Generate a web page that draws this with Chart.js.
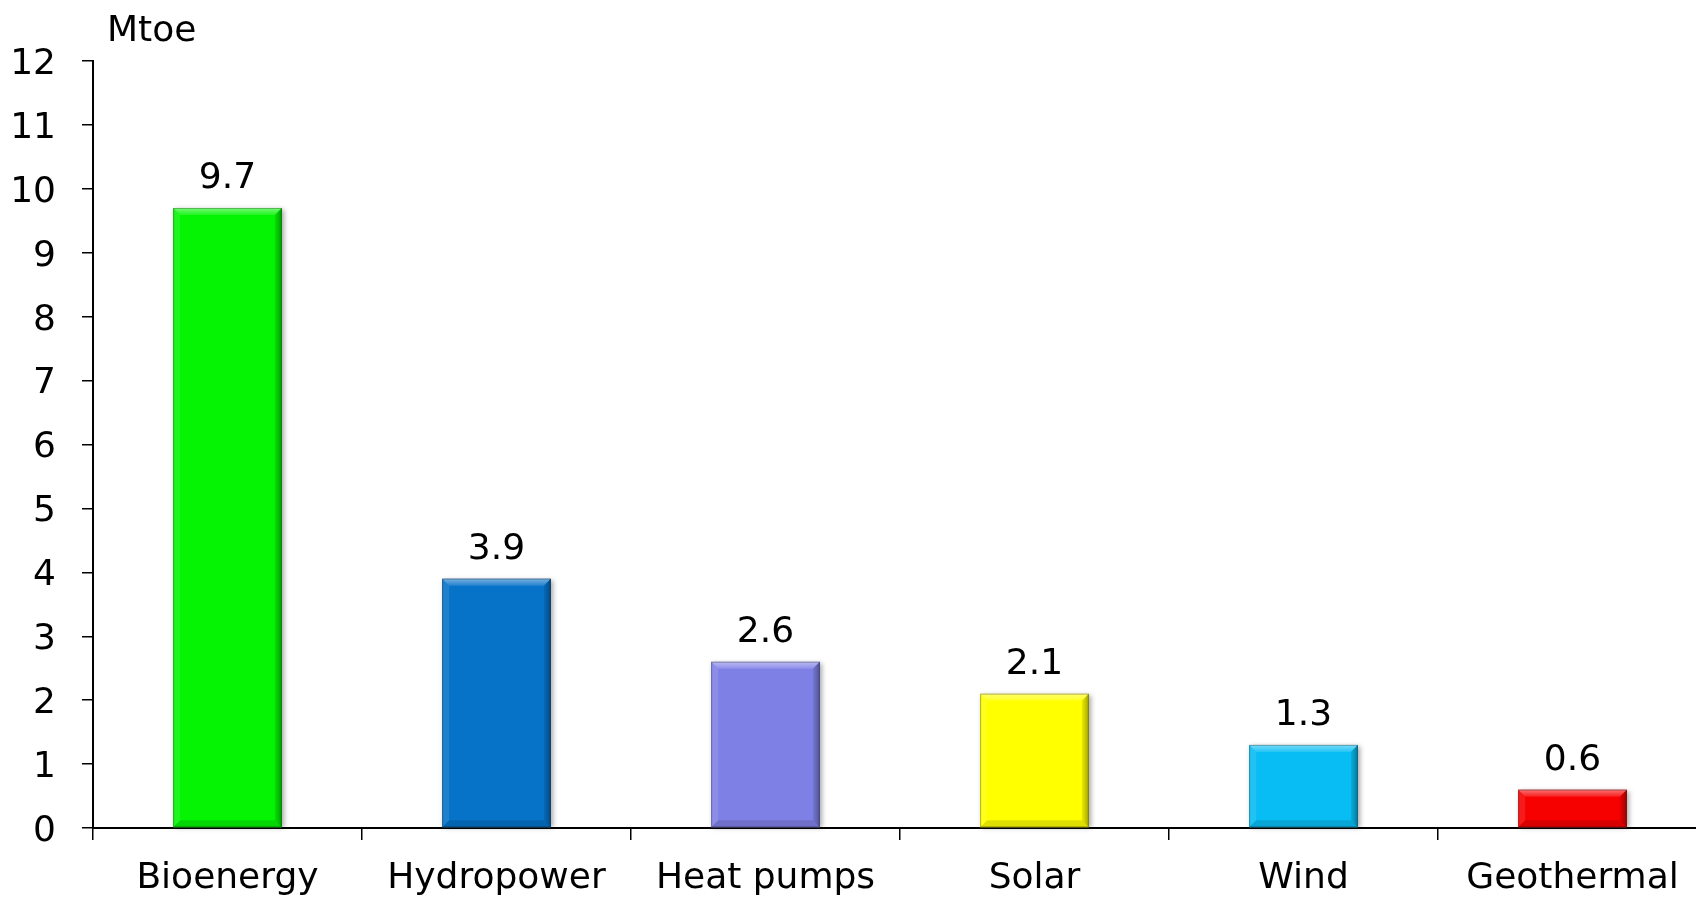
<!DOCTYPE html>
<html>
<head>
<meta charset="utf-8">
<title>Renewable energy by source</title>
<script src="https://cdn.jsdelivr.net/npm/chart.js@4/dist/chart.umd.min.js"></script>
<style>
  html, body { margin: 0; padding: 0; background: #ffffff; overflow: hidden; }
  #wrap { width: 1712px; height: 897px; position: relative; }
</style>
</head>
<body>
<div id="wrap"><canvas id="chart"></canvas></div>
<script>
// Energy sources and their contribution (Mtoe)
const categories = ['Bioenergy', 'Hydropower', 'Heat pumps', 'Solar', 'Wind', 'Geothermal'];
const values = [9.7, 3.9, 2.6, 2.1, 1.3, 0.6];
const barColors = ['#04F404', '#0672C8', '#7F80E6', '#FFFF00', '#08BDF4', '#F70000'];
const yTicks = [0, 1, 2, 3, 4, 5, 6, 7, 8, 9, 10, 11, 12];
const unitLabel = 'Mtoe';

const FONT = 'DejaVu Sans, Verdana, sans-serif';
const FONT_SIZE = 36;

// Drop shadow behind each bar
const barShadow = {
  id: 'barShadow',
  beforeDatasetsDraw(chart) {
    const ctx = chart.ctx;
    const meta = chart.getDatasetMeta(0);
    ctx.save();
    meta.data.forEach((bar) => {
      const l = bar.x - bar.width / 2, r = bar.x + bar.width / 2;
      ctx.shadowColor = 'rgba(0,0,0,0.35)';
      ctx.shadowBlur = 5;
      ctx.shadowOffsetX = 2;
      ctx.shadowOffsetY = 1;
      ctx.fillStyle = '#888';
      ctx.fillRect(l, bar.y, r - l, bar.base - bar.y);
    });
    ctx.restore();
  }
};

// Bevelled edges on each bar plus the value above it
const barDecor = {
  id: 'barDecor',
  afterDatasetsDraw(chart) {
    const ctx = chart.ctx;
    const meta = chart.getDatasetMeta(0);
    const data = chart.data.datasets[0].data;
    ctx.save();
    meta.data.forEach((bar, i) => {
      const L = bar.x - bar.width / 2, R = bar.x + bar.width / 2;
      const T = bar.y, B = bar.base;
      const d = Math.min(7, (B - T) / 2);
      // top bevel (light)
      const g = ctx.createLinearGradient(0, T, 0, T + d);
      g.addColorStop(0, 'rgba(255,255,255,0.45)');
      g.addColorStop(1, 'rgba(255,255,255,0.12)');
      ctx.fillStyle = g;
      ctx.beginPath();
      ctx.moveTo(L, T); ctx.lineTo(R, T); ctx.lineTo(R - d, T + d); ctx.lineTo(L + d, T + d);
      ctx.closePath(); ctx.fill();
      // left bevel
      ctx.fillStyle = 'rgba(255,255,255,0.10)';
      ctx.beginPath();
      ctx.moveTo(L, T); ctx.lineTo(L + d, T + d); ctx.lineTo(L + d, B - d); ctx.lineTo(L, B);
      ctx.closePath(); ctx.fill();
      // right bevel (dark)
      const gr = ctx.createLinearGradient(R - d, 0, R, 0);
      gr.addColorStop(0, 'rgba(0,0,0,0.08)');
      gr.addColorStop(1, 'rgba(0,0,0,0.35)');
      ctx.fillStyle = gr;
      ctx.beginPath();
      ctx.moveTo(R, T); ctx.lineTo(R, B); ctx.lineTo(R - d, B - d); ctx.lineTo(R - d, T + d);
      ctx.closePath(); ctx.fill();
      // bottom bevel
      ctx.fillStyle = 'rgba(0,0,0,0.12)';
      ctx.beginPath();
      ctx.moveTo(L, B); ctx.lineTo(R, B); ctx.lineTo(R - d, B - d); ctx.lineTo(L + d, B - d);
      ctx.closePath(); ctx.fill();
      // thin outline
      ctx.strokeStyle = 'rgba(0,0,0,0.25)';
      ctx.lineWidth = 1;
      ctx.strokeRect(L + 0.5, T + 0.5, R - L - 1, B - T - 1);

      // value label
      ctx.fillStyle = '#000';
      ctx.font = FONT_SIZE + 'px ' + FONT;
      ctx.textAlign = 'center';
      ctx.textBaseline = 'alphabetic';
      ctx.fillText(data[i].toFixed(1), bar.x, T - 20);
    });
    // unit label above the value axis
    ctx.textAlign = 'left';
    ctx.fillText(unitLabel, 107, 41);
    ctx.restore();
  }
};

new Chart(document.getElementById('chart'), {
  type: 'bar',
  data: {
    labels: categories,
    datasets: [{
      data: values,
      backgroundColor: barColors,
      borderWidth: 0,
      categoryPercentage: 1,
      barPercentage: 0.404
    }]
  },
  options: {
    responsive: true,
    maintainAspectRatio: false,
    animation: false,
    events: [],
    layout: { padding: { top: 61, right: 5, bottom: 0, left: 0 } },
    plugins: { legend: { display: false }, tooltip: { enabled: false } },
    scales: {
      x: {
        grid: {
          display: true, drawOnChartArea: false, drawTicks: true,
          tickLength: 12, color: '#000', lineWidth: 1.5, offset: true
        },
        border: { display: true, color: '#000', width: 2 },
        ticks: { color: '#000', font: { family: FONT, size: FONT_SIZE }, padding: 17, maxRotation: 0, autoSkip: false },
        afterFit(scale) { scale.height = 69; }
      },
      y: {
        min: 0, max: 12,
        afterBuildTicks(scale) { scale.ticks = yTicks.map(v => ({ value: v })); },
        grid: {
          display: true, drawOnChartArea: false, drawTicks: true,
          tickLength: 11, color: '#000', lineWidth: 1.5
        },
        border: { display: true, color: '#000', width: 2 },
        ticks: { color: '#000', font: { family: FONT, size: FONT_SIZE }, padding: 26, labelOffset: 3.5 },
        afterFit(scale) { scale.width = 93; }
      }
    }
  },
  plugins: [barShadow, barDecor]
});
</script>
</body>
</html>
